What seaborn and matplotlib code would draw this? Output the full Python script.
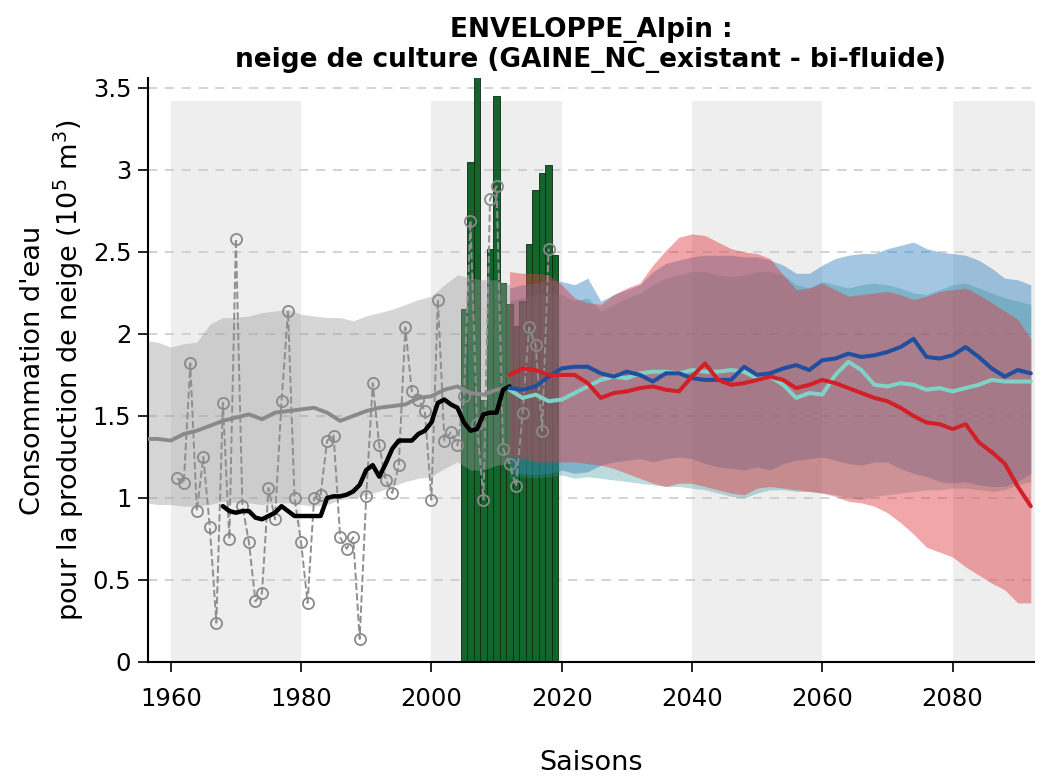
import numpy as np
import pandas as pd
import matplotlib
matplotlib.use("Agg")
import matplotlib.pyplot as plt
from matplotlib.ticker import FuncFormatter
import seaborn as sns

# ---------------- data ----------------
# observed consumption (bars)
bar_years = [2005, 2006, 2007, 2008, 2009, 2010, 2011, 2012, 2013, 2014, 2015, 2016, 2017, 2018, 2019]
bar_values = [2.15, 3.05, 3.70, 1.60, 2.52, 3.45, 2.31, 2.18, 2.05, 2.20, 2.55, 2.88, 2.98, 3.03, 2.48]

# reanalysis yearly points (grey circles)
obs_years = list(range(1961, 2019))
obs_values = [1.12, 1.09, 1.82, 0.92, 1.25, 0.82, 0.24, 1.58, 0.75, 2.58,
              0.95, 0.73, 0.37, 0.42, 1.06, 0.87, 1.59, 2.14, 1.00, 0.73,
              0.36, 1.00, 1.02, 1.35, 1.38, 0.76, 0.69, 0.76, 0.14, 1.01,
              1.70, 1.32, 1.11, 1.03, 1.20, 2.04, 1.65, 1.60, 1.53, 0.99,
              2.21, 1.35, 1.40, 1.32, 1.62, 2.69, 1.45, 0.99, 2.82, 2.90,
              1.30, 1.21, 1.07, 1.52, 2.04, 1.93, 1.41, 2.52]

# running mean of reanalysis (black line)
mean_years = list(range(1968, 2013))
mean_values = [0.95, 0.92, 0.91, 0.92, 0.92, 0.88, 0.87, 0.89, 0.91, 0.95,
               0.92, 0.89, 0.89, 0.89, 0.89, 0.89, 1.00, 1.01, 1.01, 1.02,
               1.04, 1.08, 1.17, 1.20, 1.13, 1.21, 1.30, 1.35, 1.35, 1.35,
               1.39, 1.41, 1.46, 1.58, 1.60, 1.57, 1.55, 1.46, 1.41, 1.42,
               1.51, 1.52, 1.52, 1.66, 1.68]

# historical model envelope (grey)
hist_years = list(range(1956, 2013, 2))
hist_med = [1.36, 1.36, 1.35, 1.39, 1.41, 1.44, 1.47, 1.49, 1.51, 1.48,
            1.52, 1.53, 1.54, 1.55, 1.52, 1.47, 1.50, 1.53, 1.55, 1.56,
            1.57, 1.61, 1.62, 1.66, 1.68, 1.64, 1.63, 1.66, 1.67]
hist_up = [1.96, 1.95, 1.92, 1.94, 1.95, 2.06, 2.10, 2.10, 2.11, 2.13,
           2.14, 2.15, 2.12, 2.11, 2.10, 2.10, 2.08, 2.11, 2.13, 2.15,
           2.18, 2.21, 2.23, 2.30, 2.36, 2.34, 2.33, 2.33, 2.30]
hist_lo = [0.97, 0.96, 0.96, 0.95, 0.95, 0.96, 0.98, 0.97, 0.97, 0.96,
           0.97, 0.97, 0.96, 0.95, 0.96, 0.99, 1.00, 1.02, 1.04, 1.07,
           1.10, 1.12, 1.13, 1.18, 1.22, 1.17, 1.17, 1.20, 1.21]

# projections
proj_years = list(range(2012, 2093, 2))
blue_med = [1.67, 1.66, 1.68, 1.74, 1.79, 1.80, 1.80, 1.76, 1.74, 1.77,
            1.75, 1.71, 1.76, 1.76, 1.73, 1.72, 1.72, 1.72, 1.80, 1.75,
            1.76, 1.79, 1.81, 1.78, 1.84, 1.85, 1.88, 1.86, 1.87, 1.89,
            1.92, 1.97, 1.86, 1.85, 1.87, 1.92, 1.86, 1.79, 1.74, 1.78, 1.76]
blue_up = [2.28, 2.30, 2.31, 2.33, 2.32, 2.30, 2.34, 2.20, 2.24, 2.27,
           2.30, 2.38, 2.43, 2.45, 2.47, 2.48, 2.48, 2.48, 2.47, 2.47,
           2.45, 2.42, 2.37, 2.37, 2.42, 2.46, 2.48, 2.49, 2.49, 2.52,
           2.54, 2.56, 2.52, 2.50, 2.49, 2.48, 2.45, 2.40, 2.34, 2.33, 2.30]
blue_lo = [1.15, 1.15, 1.14, 1.15, 1.17, 1.15, 1.16, 1.20, 1.22, 1.23,
           1.24, 1.22, 1.24, 1.25, 1.24, 1.21, 1.19, 1.18, 1.17, 1.19,
           1.17, 1.21, 1.23, 1.24, 1.25, 1.23, 1.21, 1.20, 1.22, 1.22,
           1.18, 1.15, 1.13, 1.10, 1.09, 1.10, 1.08, 1.07, 1.07, 1.10, 1.15]

teal_med = [1.66, 1.61, 1.63, 1.59, 1.60, 1.64, 1.68, 1.72, 1.74, 1.73,
            1.76, 1.77, 1.77, 1.76, 1.78, 1.77, 1.77, 1.78, 1.77, 1.73,
            1.74, 1.69, 1.61, 1.64, 1.63, 1.75, 1.83, 1.78, 1.69, 1.68,
            1.70, 1.69, 1.66, 1.67, 1.65, 1.67, 1.69, 1.72, 1.71, 1.71, 1.71]
teal_up = [2.20, 2.22, 2.24, 2.25, 2.24, 2.20, 2.22, 2.14, 2.18, 2.22,
           2.25, 2.30, 2.34, 2.36, 2.38, 2.38, 2.36, 2.35, 2.36, 2.38,
           2.38, 2.36, 2.30, 2.28, 2.32, 2.30, 2.28, 2.30, 2.31, 2.30,
           2.28, 2.25, 2.24, 2.27, 2.30, 2.31, 2.28, 2.25, 2.22, 2.20, 2.18]
teal_lo = [1.12, 1.13, 1.12, 1.13, 1.14, 1.12, 1.13, 1.12, 1.11, 1.10,
           1.09, 1.08, 1.07, 1.07, 1.06, 1.05, 1.03, 1.01, 1.00, 1.03,
           1.05, 1.05, 1.04, 1.04, 1.03, 1.02, 1.00, 0.99, 1.01, 1.02,
           1.03, 1.04, 1.05, 1.05, 1.06, 1.06, 1.05, 1.04, 1.05, 1.08, 1.10]

red_med = [1.75, 1.79, 1.78, 1.75, 1.75, 1.75, 1.70, 1.61, 1.64, 1.65,
           1.67, 1.68, 1.66, 1.65, 1.74, 1.82, 1.72, 1.69, 1.70, 1.72,
           1.74, 1.72, 1.67, 1.69, 1.72, 1.70, 1.67, 1.64, 1.61, 1.59,
           1.55, 1.50, 1.46, 1.45, 1.42, 1.45, 1.34, 1.28, 1.21, 1.07, 0.95]
red_up = [2.38, 2.37, 2.37, 2.36, 2.30, 2.22, 2.19, 2.18, 2.24, 2.28,
          2.31, 2.42, 2.51, 2.59, 2.61, 2.60, 2.56, 2.52, 2.50, 2.49,
          2.46, 2.36, 2.27, 2.28, 2.31, 2.27, 2.23, 2.24, 2.25, 2.26,
          2.24, 2.21, 2.23, 2.26, 2.27, 2.28, 2.24, 2.19, 2.14, 2.09, 1.97]
red_lo = [1.25, 1.24, 1.22, 1.22, 1.22, 1.22, 1.21, 1.20, 1.18, 1.15,
          1.12, 1.09, 1.07, 1.09, 1.09, 1.07, 1.05, 1.03, 1.02, 1.06,
          1.07, 1.06, 1.05, 1.04, 1.03, 1.01, 0.98, 0.97, 0.95, 0.91,
          0.85, 0.78, 0.70, 0.67, 0.64, 0.58, 0.53, 0.48, 0.44, 0.36, 0.36]

# alternating background periods
shade_periods = [(1960, 1980), (2000, 2020), (2040, 2060), (2080, 2100)]
x_ticks = [1960, 1980, 2000, 2020, 2040, 2060, 2080]
y_ticks = [0, 0.5, 1, 1.5, 2, 2.5, 3, 3.5]

title = "ENVELOPPE_Alpin :\nneige de culture (GAINE_NC_existant - bi-fluide)"
ylabel = "Consommation d'eau\npour la production de neige (10$^5$ m$^3$)"
xlabel = "Saisons"

# ---------------- plot ----------------
sns.set_theme(style="white")
plt.rcParams['font.family'] = ['DejaVu Sans']
plt.rcParams['text.color'] = 'black'
plt.rcParams['axes.labelcolor'] = 'black'

fig = plt.figure(figsize=(10.53, 7.81), dpi=100)
ax = fig.add_axes([0.1405, 0.1524, 0.8415, 0.7476])

for a, b in shade_periods:
    ax.fill_between([a, b], 0, 3.42, color="#eeeeee", lw=0, zorder=0)

ax.yaxis.grid(True, linestyle=(0, (6, 5)), color="#c8c8c8", lw=1.1)
ax.set_axisbelow(True)

ax.bar(bar_years, bar_values, width=1.0, color="#13652c", edgecolor="#0a2a12",
       linewidth=0.6, zorder=1)

# historical envelope
ax.fill_between(hist_years, hist_lo, hist_up, color="#9a9a9a", alpha=0.40, lw=0, zorder=2)

# projection envelopes
ax.fill_between(proj_years, blue_lo, blue_up, color="#2f7fc0", alpha=0.44, lw=0, zorder=2)
ax.fill_between(proj_years, teal_lo, teal_up, color="#2f8f95", alpha=0.32, lw=0, zorder=2)
ax.fill_between(proj_years, red_lo, red_up, color="#e03a40", alpha=0.45, lw=0, zorder=2)

# reanalysis points
sns.lineplot(x=obs_years, y=obs_values, ax=ax, color="#8f8f8f", lw=1.4,
             linestyle="--", marker="o", markersize=8, markerfacecolor="none",
             markeredgecolor="#8a8a8a", markeredgewidth=1.3, zorder=3)

sns.lineplot(x=hist_years, y=hist_med, ax=ax, color="#8a8a8a", lw=2.8, zorder=4)
sns.lineplot(x=mean_years, y=mean_values, ax=ax, color="black", lw=3.2, zorder=4)

sns.lineplot(x=proj_years, y=teal_med, ax=ax, color="#7fd3c6", lw=2.9, zorder=5)
sns.lineplot(x=proj_years, y=blue_med, ax=ax, color="#1f4f9e", lw=2.9, zorder=5)
sns.lineplot(x=proj_years, y=red_med, ax=ax, color="#d21f28", lw=2.9, zorder=6)

ax.set_xlim(1956.5, 2092.5)
ax.set_ylim(0, 3.56)
ax.set_xticks(x_ticks)
ax.set_yticks(y_ticks)
ax.yaxis.set_major_formatter(FuncFormatter(lambda v, p: f"{v:g}"))

for s in ["top", "right"]:
    ax.spines[s].set_visible(False)
for s in ["left", "bottom"]:
    ax.spines[s].set_color("black")
    ax.spines[s].set_linewidth(1.5)

ax.tick_params(axis="both", which="major", direction="out", length=7, width=1.2,
               colors="black", labelsize=17.5, bottom=True, left=True)
ax.tick_params(axis="x", pad=11)
ax.tick_params(axis="y", pad=5)

ax.set_title(title, fontsize=19, fontweight="bold", pad=8, color="black")
ax.set_ylabel(ylabel, fontsize=19.5, labelpad=5)
ax.set_xlabel(xlabel, fontsize=19.5, labelpad=28)

fig.savefig("out.png", dpi=100)
